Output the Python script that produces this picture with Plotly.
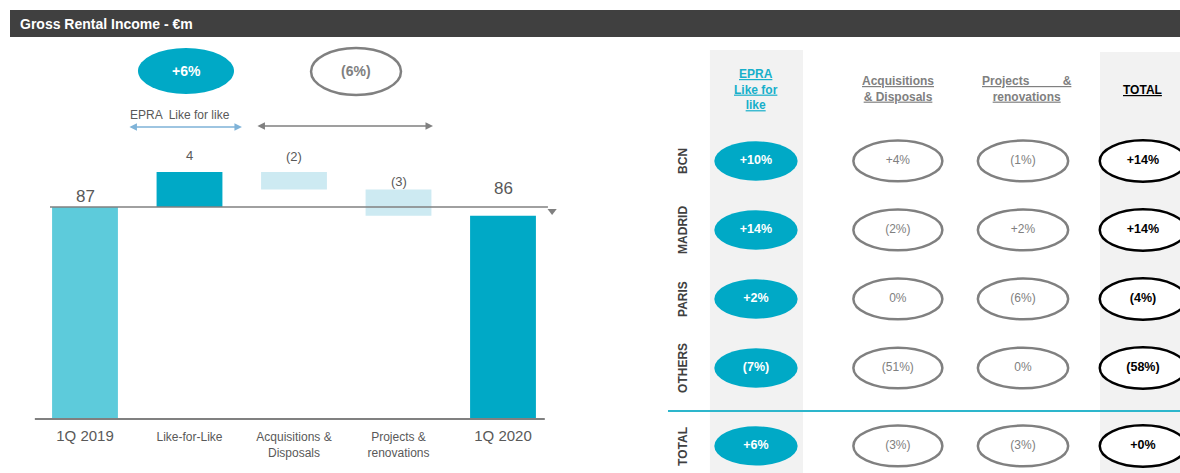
import plotly.graph_objects as go

# ---------------- data ----------------
categories = ["1Q 2019", "Like-for-Like", "Acquisitions &<br>Disposals", "Projects &<br>renovations", "1Q 2020"]
values = [87, 4, -2, -3, 86]
measures = ["absolute", "relative", "relative", "relative", "total"]
bar_labels = ["87", "4", "(2)", "(3)", "86"]

lfl_summary = "+6%"
other_summary = "(6%)"
lfl_caption = "EPRA  Like for like"

regions = ["BCN", "MADRID", "PARIS", "OTHERS", "TOTAL"]
col_headers = ["EPRA<br>Like for<br>like", "Acquisitions<br>& Disposals",
               "Projects\u00a0\u00a0\u00a0\u00a0\u00a0\u00a0\u00a0\u00a0\u00a0\u00a0&<br>renovations", "TOTAL"]
epra_lfl = ["+10%", "+14%", "+2%", "(7%)", "+6%"]
acq_disp = ["+4%", "(2%)", "0%", "(51%)", "(3%)"]
proj_renov = ["(1%)", "+2%", "(6%)", "0%", "(3%)"]
total_chg = ["+14%", "+14%", "(4%)", "(58%)", "+0%"]
title = "Gross Rental Income - €m"

# ---------------- styles / layout constants ----------------
FONT = "Liberation Sans, Arial, sans-serif"
TEAL = "#00A9C6"
LTEAL = "#5DCBDB"
PALE = "#CDEAF2"
GREY = "#808080"
TXT = "#595959"
bar_colors = [LTEAL, TEAL, PALE, PALE, TEAL]
label_sizes = [17, 13, 13, 13, 17]
label_shift = [-1, 7, 6, -1, 16]

# table layout (x2 / y2 units)
col_x = [0, 1.1, 2.07, 3.0]
row_y = [0, 1, 2, 3, 4.13]
col_hw = [0.323, 0.345, 0.35, 0.335]
col_hh = [0.285, 0.295, 0.295, 0.30]

# ---------------- waterfall computation ----------------
bases, heights, tops = [], [], []
running = 0
for v, m in zip(values, measures):
    if m == "relative":
        bases.append(running)
        heights.append(v)
        tops.append(max(running, running + v))
        running += v
    else:
        bases.append(0)
        heights.append(v)
        tops.append(v)
        running = v

xpos = list(range(len(categories)))
ticktext = []
for i, c in enumerate(categories):
    if measures[i] == "relative":
        ticktext.append(c)
    else:
        ticktext.append(f'<span style="font-size:15px">{c}</span>')

fig = go.Figure()
fig.add_trace(go.Bar(x=xpos, y=heights, base=bases, width=0.63,
                     marker=dict(color=bar_colors, line=dict(width=0)),
                     hoverinfo="skip", xaxis="x", yaxis="y"))

# triangle at end of the reference line
fig.add_trace(go.Scatter(x=[4.47], y=[86.55], mode="markers",
                         marker=dict(symbol="triangle-down", size=8, color=GREY),
                         hoverinfo="skip", xaxis="x", yaxis="y"))

annotations = []
shapes = []

# bar value labels
for i, t in enumerate(bar_labels):
    annotations.append(dict(x=xpos[i], y=tops[i], xref="x", yref="y", text=t,
                            showarrow=False, xanchor="center", yanchor="bottom",
                            yshift=label_shift[i],
                            font=dict(size=label_sizes[i], color=TXT, family=FONT)))

# baseline and start-level line
shapes.append(dict(type="line", xref="x", yref="paper", x0=-0.48, x1=4.40,
                   y0=54 / 473, y1=54 / 473, line=dict(color=GREY, width=2)))
shapes.append(dict(type="line", xref="x", yref="y", x0=-0.335, x1=4.43,
                   y0=values[0], y1=values[0], line=dict(color=GREY, width=1.5)))

# top summary ellipses
shapes.append(dict(type="circle", xref="x", yref="paper", x0=0.507, x1=1.426,
                   y0=(473 - 94) / 473, y1=(473 - 48) / 473,
                   fillcolor=TEAL, line=dict(width=0)))
shapes.append(dict(type="circle", xref="x", yref="paper", x0=2.163, x1=3.024,
                   y0=(473 - 95) / 473, y1=(473 - 48) / 473,
                   fillcolor="white", line=dict(color=GREY, width=2.5)))
annotations.append(dict(x=0.967, y=(473 - 71) / 473, xref="x", yref="paper",
                        text=f"<b>{lfl_summary}</b>", showarrow=False,
                        xanchor="center", yanchor="middle",
                        font=dict(size=14, color="white", family=FONT)))
annotations.append(dict(x=2.593, y=(473 - 71) / 473, xref="x", yref="paper",
                        text=f"<b>{other_summary}</b>", showarrow=False,
                        xanchor="center", yanchor="middle",
                        font=dict(size=14, color=GREY, family=FONT)))
annotations.append(dict(x=0.91, y=(473 - 115) / 473, xref="x", yref="paper",
                        text=lfl_caption, showarrow=False,
                        xanchor="center", yanchor="middle",
                        font=dict(size=12, color=TXT, family=FONT)))
# double arrows
annotations.append(dict(x=1.502, y=(473 - 127) / 473, xref="x", yref="paper",
                        ax=0.411, axref="x", ay=0, ayref="pixel", text="",
                        showarrow=True, arrowside="end+start", arrowhead=2,
                        arrowsize=1, arrowwidth=1.5, arrowcolor="#7FB3D8"))
annotations.append(dict(x=3.33, y=(473 - 126) / 473, xref="x", yref="paper",
                        ax=1.636, axref="x", ay=0, ayref="pixel", text="",
                        showarrow=True, arrowside="end+start", arrowhead=2,
                        arrowsize=1, arrowwidth=1.5, arrowcolor=GREY))

# header bar
shapes.append(dict(type="rect", xref="paper", yref="paper", x0=10 / 1180, x1=1,
                   y0=(473 - 37) / 473, y1=(473 - 10) / 473,
                   fillcolor="#404040", line=dict(width=0), layer="below"))
annotations.append(dict(x=18 / 1180, y=(473 - 23.5) / 473, xref="paper", yref="paper",
                        text=f"<b>{title}</b>", showarrow=False, xanchor="left",
                        yanchor="middle",
                        font=dict(size=14, color="white", family=FONT)))

# ---------------- table ----------------
shapes.append(dict(type="rect", xref="x2", yref="y2", x0=-0.357, x1=0.364,
                   y0=-1.61, y1=4.6, fillcolor="#F2F2F2", line=dict(width=0), layer="below"))
shapes.append(dict(type="rect", xref="x2", yref="y2", x0=2.667, x1=3.4,
                   y0=-1.58, y1=4.6, fillcolor="#F2F2F2", line=dict(width=0), layer="below"))
shapes.append(dict(type="line", xref="x2", yref="y2", x0=-0.682, x1=3.4,
                   y0=3.623, y1=3.623, line=dict(color="#2DB6CC", width=2), layer="below"))

columns = [epra_lfl, acq_disp, proj_renov, total_chg]
fills = [TEAL, "white", "white", "white"]
outlines = [None, GREY, GREY, "black"]
txt_colors = ["white", GREY, GREY, "black"]
bold = [True, False, False, True]
txt_sizes = [12.5, 12, 12, 12.5]

for ci, col in enumerate(columns):
    for ri, val in enumerate(col):
        line = dict(width=0) if outlines[ci] is None else dict(color=outlines[ci], width=2.5)
        shapes.append(dict(type="circle", xref="x2", yref="y2",
                           x0=col_x[ci] - col_hw[ci], x1=col_x[ci] + col_hw[ci],
                           y0=row_y[ri] - col_hh[ci], y1=row_y[ri] + col_hh[ci],
                           fillcolor=fills[ci], line=line, layer="below"))
    fig.add_trace(go.Scatter(x=[col_x[ci]] * len(col), y=row_y, mode="text",
                             text=[f"<b>{v}</b>" if bold[ci] else v for v in col],
                             textfont=dict(size=txt_sizes[ci], color=txt_colors[ci], family=FONT),
                             hoverinfo="skip", xaxis="x2", yaxis="y2"))

for ri, r in enumerate(regions):
    annotations.append(dict(x=-0.566, y=row_y[ri], xref="x2", yref="y2",
                            text=f"<b>{r}</b>", textangle=-90, showarrow=False,
                            xanchor="center", yanchor="middle",
                            font=dict(size=12, color="#404040", family=FONT)))

hdr_colors = ["#17AFCA", GREY, GREY, "black"]
hdr_x = [0, 1.1, 2.1, 3.0]
hdr_y = [-1.03, -1.04, -1.04, -1.03]
for ci, h in enumerate(col_headers):
    annotations.append(dict(x=hdr_x[ci], y=hdr_y[ci], xref="x2", yref="y2",
                            text=f"<b><u>{h}</u></b>", showarrow=False, align="center",
                            xanchor="center", yanchor="middle",
                            font=dict(size=12, color=hdr_colors[ci], family=FONT)))

fig.update_layout(
    width=1180, height=473, margin=dict(l=0, r=0, t=0, b=0),
    paper_bgcolor="white", plot_bgcolor="rgba(0,0,0,0)", showlegend=False,
    font=dict(family=FONT, color=TXT),
    xaxis=dict(domain=[0, 640 / 1180], range=[-0.8134, 5.311], tickvals=xpos,
               ticktext=ticktext, tickfont=dict(size=12, color=TXT, family=FONT),
               showline=False, showgrid=False, zeroline=False, ticks="", anchor="y",
               ticklabelstandoff=9, fixedrange=True),
    yaxis=dict(domain=[54 / 473, 1], range=[62.77, 110.66], visible=False, anchor="x",
               fixedrange=True),
    xaxis2=dict(domain=[640 / 1180, 1], range=[-0.899, 3.287], visible=False, anchor="y2"),
    yaxis2=dict(domain=[0, 1], range=[4.522, -2.333], visible=False, anchor="x2"),
    shapes=shapes, annotations=annotations,
)

fig.write_html("out.html")
